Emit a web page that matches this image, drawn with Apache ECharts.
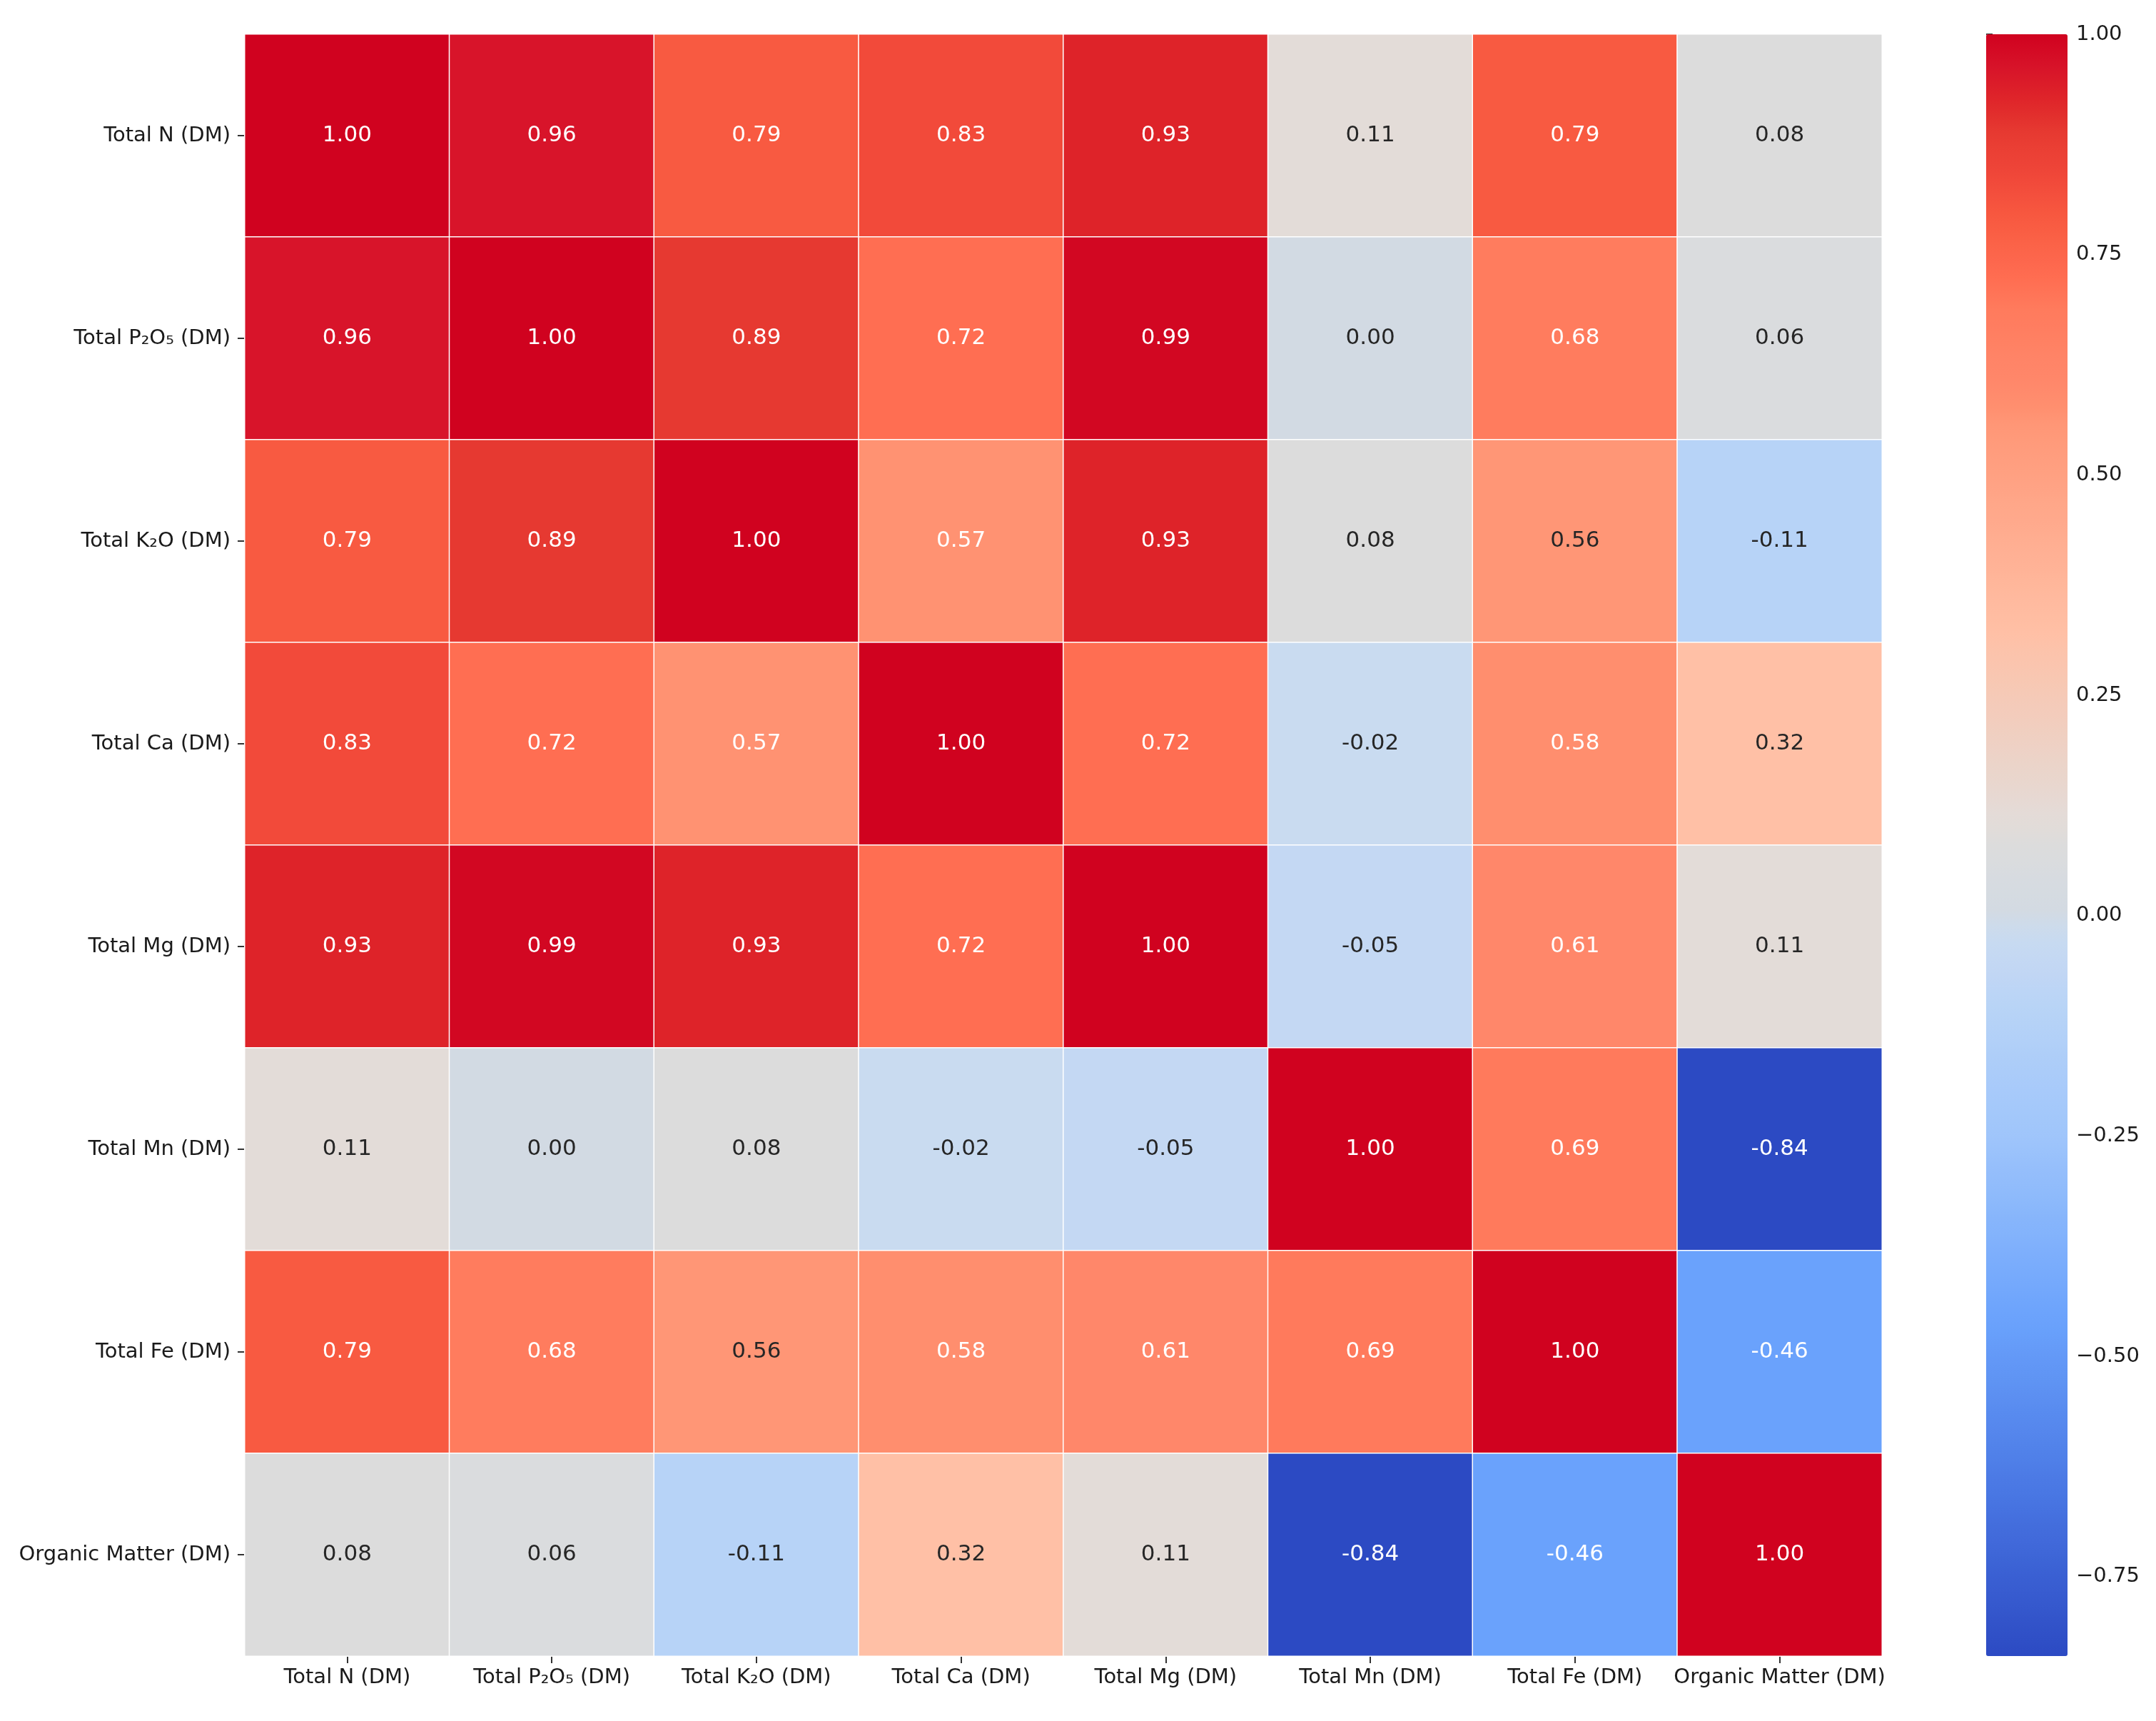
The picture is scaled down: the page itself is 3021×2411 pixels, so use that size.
<!DOCTYPE html>
<html>
<head>
<meta charset="utf-8">
<script src="https://cdn.jsdelivr.net/npm/echarts@6/dist/echarts.min.js"></script>
<style>
html,body{margin:0;padding:0;background:#fff;}
#chart{width:3021px;height:2411px;}
</style>
</head>
<body>
<div id="chart"></div>
<script>
// ---- data ----
const categories = [
  'Total N (DM)', 'Total P\u2082O\u2085 (DM)', 'Total K\u2082O (DM)', 'Total Ca (DM)',
  'Total Mg (DM)', 'Total Mn (DM)', 'Total Fe (DM)', 'Organic Matter (DM)'
];
const rowTotalN   = [1.00, 0.96, 0.79, 0.83, 0.93, 0.11, 0.79, 0.08];
const rowTotalP   = [0.96, 1.00, 0.89, 0.72, 0.99, 0.00, 0.68, 0.06];
const rowTotalK   = [0.79, 0.89, 1.00, 0.57, 0.93, 0.08, 0.56, -0.11];
const rowTotalCa  = [0.83, 0.72, 0.57, 1.00, 0.72, -0.02, 0.58, 0.32];
const rowTotalMg  = [0.93, 0.99, 0.93, 0.72, 1.00, -0.05, 0.61, 0.11];
const rowTotalMn  = [0.11, 0.00, 0.08, -0.02, -0.05, 1.00, 0.69, -0.84];
const rowTotalFe  = [0.79, 0.68, 0.56, 0.58, 0.61, 0.69, 1.00, -0.46];
const rowOrganic  = [0.08, 0.06, -0.11, 0.32, 0.11, -0.84, -0.46, 1.00];
const colorbarTicks = [-0.75, -0.50, -0.25, 0.00, 0.25, 0.50, 0.75, 1.00];
const colorMin = -0.84, colorMax = 1.00;

const rows = [rowTotalN, rowTotalP, rowTotalK, rowTotalCa, rowTotalMg, rowTotalMn, rowTotalFe, rowOrganic];
const heatData = [];
rows.forEach((r, yi) => r.forEach((v, xi) => heatData.push([xi, yi, v])));

// ---- colour map (saturated coolwarm, sampled from reference) ----
const anchors = [
  [-0.84,'#2c4ac3'],[-0.65,'#4a78e4'],[-0.46,'#6aa2fc'],[-0.25,'#9fc5fb'],[-0.11,'#b7d3f7'],
  [-0.05,'#c4d8f3'],[-0.02,'#c9dbf0'],[0.00,'#d2dae3'],[0.08,'#dcdcdc'],[0.11,'#e3dcd8'],
  [0.32,'#ffc0a6'],[0.56,'#ff9676'],[0.58,'#ff8e6e'],[0.61,'#ff876a'],[0.69,'#ff7a5c'],
  [0.72,'#ff6e52'],[0.79,'#f85a41'],[0.83,'#f24a3a'],[0.89,'#e63931'],[0.93,'#de2329'],
  [0.96,'#d8142a'],[1.00,'#d0021f']
];
function hex2rgb(h){return [parseInt(h.slice(1,3),16),parseInt(h.slice(3,5),16),parseInt(h.slice(5,7),16)];}
function colorAt(v){
  if (v <= anchors[0][0]) return anchors[0][1];
  for (let i = 1; i < anchors.length; i++) {
    if (v <= anchors[i][0]) {
      const [v0,c0] = anchors[i-1], [v1,c1] = anchors[i];
      const t = (v - v0) / (v1 - v0);
      const a = hex2rgb(c0), b = hex2rgb(c1);
      const c = a.map((x,k)=>Math.round(x + (b[k]-x)*t));
      return 'rgb(' + c.join(',') + ')';
    }
  }
  return anchors[anchors.length-1][1];
}
const N_STOPS = 185;
const stops = [];
for (let i = 0; i < N_STOPS; i++) stops.push(colorAt(colorMin + (colorMax - colorMin) * i / (N_STOPS - 1)));

const FONT = 'DejaVu Sans';
const gridLeft = 343, gridTop = 48, gridW = 2294, gridH = 2272;
const cbLeft = 2783, cbW = 114;

const heatStyled = heatData.map(d => ({
  value: d,
  label: {color: (d[2] > -0.3 && d[2] < 0.565) ? '#262626' : '#ffffff'}
}));

const chart = echarts.init(document.getElementById('chart'), null, {renderer:'canvas'});
chart.setOption({
  backgroundColor: '#ffffff',
  animation: false,
  textStyle: {fontFamily: FONT},
  grid: [
    {left: gridLeft, top: gridTop, width: gridW, height: gridH},
    {left: cbLeft, top: gridTop, width: cbW, height: gridH}
  ],
  xAxis: [
    {
      type: 'category', data: categories, gridIndex: 0, position: 'bottom',
      axisLine: {show: false},
      axisTick: {show: true, alignWithLabel: true, length: 10, lineStyle: {color: '#333', width: 2}},
      axisLabel: {fontFamily: FONT, fontSize: 29, color: '#1a1a1a', margin: 16, interval: 0},
      splitLine: {show: false}
    },
    {type: 'value', gridIndex: 1, show: false, min: 0, max: 1,
     axisLine: {show: false}, axisTick: {show: false}, axisLabel: {show: false}, splitLine: {show: false}}
  ],
  yAxis: [
    {
      type: 'category', data: categories, gridIndex: 0, inverse: true,
      axisLine: {show: false},
      axisTick: {show: true, alignWithLabel: true, length: 10, lineStyle: {color: '#333', width: 2}},
      axisLabel: {fontFamily: FONT, fontSize: 29, color: '#1a1a1a', margin: 20, interval: 0},
      splitLine: {show: false}
    },
    {
      type: 'value', gridIndex: 1, position: 'right', min: colorMin, max: colorMax,
      axisLine: {show: false},
      splitLine: {show: false},
      axisTick: {show: true, length: 9, lineStyle: {color: '#333', width: 2}, customValues: colorbarTicks},
      axisLabel: {
        fontFamily: FONT, fontSize: 29, color: '#1a1a1a', margin: 12,
        customValues: colorbarTicks,
        formatter: v => (v < 0 ? '\u2212' : '') + Math.abs(v).toFixed(2)
      }
    }
  ],
  visualMap: {
    type: 'continuous', seriesIndex: 0, min: colorMin, max: colorMax,
    calculable: false, realtime: false, hoverLink: false,
    orient: 'vertical', left: cbLeft, top: gridTop, itemWidth: cbW, itemHeight: gridH,
    padding: 0, text: null, showLabel: false, indicatorSize: 0,
    inRange: {color: stops}
  },
  series: [{
    type: 'heatmap', xAxisIndex: 0, yAxisIndex: 0, data: heatStyled,
    itemStyle: {borderColor: '#ffffff', borderWidth: 1.5},
    emphasis: {disabled: true},
    label: {
      show: true, fontFamily: FONT, fontSize: 31,
      formatter: p => p.value[2].toFixed(2),
      color: '#ffffff'
    }
  }]
});
</script>
</body>
</html>
